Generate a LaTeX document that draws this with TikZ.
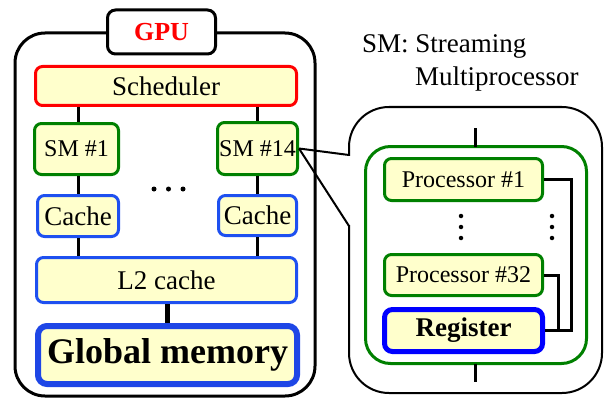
\documentclass[tikz,border=0pt]{standalone}
\usepackage{fontspec}
\setmainfont{Liberation Serif}
\definecolor{cellfill}{HTML}{FFFFCC}
\definecolor{smgreen}{HTML}{008000}
\definecolor{cacheblue}{HTML}{1E50F0}
\definecolor{memblue}{HTML}{1E46E6}
\begin{document}
\begin{tikzpicture}[x=1pt,y=-1pt,
  unit/.style={draw, fill=cellfill, rounded corners=7pt, inner sep=0pt,
    line width=3pt, font=\fontsize{27}{30}\selectfont},
  schedbox/.style={unit, draw=red},
  smbox/.style={unit, draw=smgreen, font=\fontsize{24}{28}\selectfont},
  cachebox/.style={unit, draw=cacheblue},
  membox/.style={unit, draw=memblue, line width=6pt, rounded corners=9pt,
    font=\fontsize{36}{40}\selectfont\bfseries},
  regbox/.style={unit, draw=blue, line width=5pt, rounded corners=8pt,
    font=\fontsize{27}{30}\selectfont\bfseries},
  wire/.style={line width=3pt},
  frame/.style={draw, line width=3pt},
  dot/.style={fill, circle, inner sep=0pt, minimum size=5pt}]
\useasboundingbox (0,0) rectangle (604,401);

% GPU enclosure and its title tab
\draw[frame, rounded corners=30pt] (15,33) rectangle (315,396);
\node[frame, fill=white, rounded corners=8pt, minimum width=108pt, minimum height=44pt,
  font=\fontsize{26}{28}\selectfont\bfseries, text=red] (gpu) at (161.5,32) {GPU};

% GPU components
\node[schedbox, minimum width=261pt, minimum height=39pt] (sched) at (166,86) {Scheduler};
\node[smbox, minimum width=84pt, minimum height=51pt] (sm1) at (76.5,149) {SM \#1};
\node[smbox, minimum width=80pt, minimum height=52pt] (sm14) at (257.5,148.5) {SM \#14};
\node[cachebox, minimum width=81pt, minimum height=41pt] (c1) at (78,216) {Cache};
\node[cachebox, minimum width=78pt, minimum height=40pt] (c2) at (257.5,215.5) {Cache};
\node[cachebox, minimum width=260pt, minimum height=45pt] (l2) at (166.5,280) {L2 cache};
\node[membox, minimum width=259pt, minimum height=58pt] (gmem) at (167.5,355) {Global memory};

% horizontal ellipsis between the SMs
\node[dot] (h1) at (154,189) {};
\node[dot] (h2) at (168.5,189) {};
\node[dot] (h3) at (183,189) {};

% GPU wiring
\coordinate (lx) at (78,0);
\coordinate (rx) at (257,0);
\coordinate (mx) at (167,0);
\draw[wire] (lx |- sched.south) -- (lx |- sm1.north);
\draw[wire] (lx |- sm1.south) -- (lx |- c1.north);
\draw[wire] (lx |- c1.south) -- (lx |- l2.north);
\draw[wire] (rx |- sched.south) -- (rx |- sm14.north);
\draw[wire] (rx |- sm14.south) -- (rx |- c2.north);
\draw[wire] (rx |- c2.south) -- (rx |- l2.north);
\draw[line width=5pt] (mx |- l2.south) -- (mx |- gmem.north);

% legend
\node[anchor=base west, inner sep=0pt, font=\fontsize{27}{30}\selectfont] (leg1) at (362,53) {SM: Streaming};
\node[anchor=base west, inner sep=0pt, font=\fontsize{27}{30}\selectfont] (leg2) at (415,85) {Multiprocessor};

% SM detail callout
\draw[line width=2pt, rounded corners=40pt, fill=white] (349,107) rectangle (602,393);
\fill[white] (346,156) rectangle (352,225);
\coordinate (ptop) at (349,155);
\coordinate (pbot) at (349,226);
\draw[line width=2pt] (sm14.east) -- (ptop);
\draw[line width=2pt] (sm14.east) -- (pbot);

% SM internals
\draw[smgreen, line width=3pt, rounded corners=25pt] (365.5,146.5) rectangle (586.5,363.5);
\coordinate (smtop) at (475,146.5);
\coordinate (smbot) at (475,363.5);
\coordinate (intop) at (475,128);
\coordinate (inbot) at (475,382);
\draw[wire] (intop) -- (smtop);
\draw[wire] (smbot) -- (inbot);

\node[smbox, minimum width=158pt, minimum height=42pt] (p1) at (463.5,179.5) {Processor \#1};
\node[smbox, minimum width=158pt, minimum height=41pt] (p32) at (463.5,275) {Processor \#32};
\node[regbox, minimum width=158pt, minimum height=42pt] (reg) at (463.5,330.5) {Register};

% vertical ellipses
\node[dot, minimum size=4.5pt] (v1) at (461,216) {};
\node[dot, minimum size=4.5pt] (v2) at (461,227) {};
\node[dot, minimum size=4.5pt] (v3) at (461,238) {};
\node[dot, minimum size=4.5pt] (w1) at (552,216) {};
\node[dot, minimum size=4.5pt] (w2) at (552,227) {};
\node[dot, minimum size=4.5pt] (w3) at (552,238) {};

% processor-to-register wiring
\coordinate (bus1) at (571,0);
\coordinate (bus2) at (558,0);
\draw[wire] (p1.east) -| (bus1 |- reg.east) -- (reg.east);
\draw[wire] (p32.east) -| (bus2 |- reg.east);
\end{tikzpicture}
\end{document}
